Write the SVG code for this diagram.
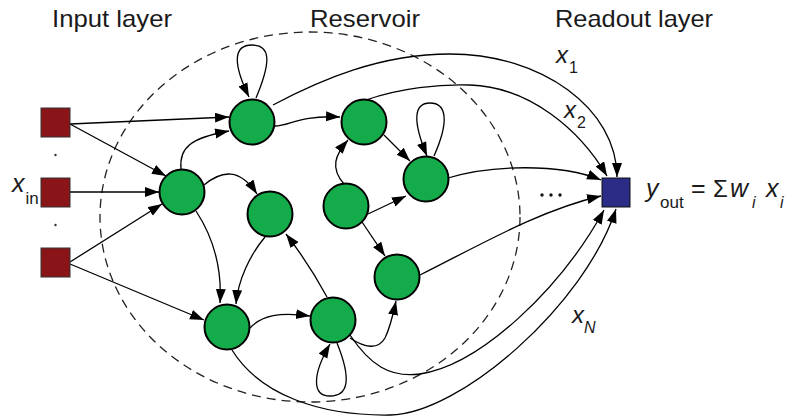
<svg xmlns="http://www.w3.org/2000/svg" width="788" height="417" viewBox="0 0 788 417">
<defs>
<marker id="ah" markerUnits="userSpaceOnUse" markerWidth="15" markerHeight="11" refX="14" refY="5" orient="auto">
<path d="M0,0 L14,5 L0,10 z" fill="#000"/>
</marker>
<style>
.t{font-family:"Liberation Sans",Arial,sans-serif;fill:#1a1a1a}
.e{fill:none;stroke:#000;stroke-width:1.3;marker-end:url(#ah)}
.n{fill:#14ac4a;stroke:#000;stroke-width:2}
.in{fill:#8a1518;stroke:#333;stroke-width:1}
.out{fill:#2a2c86;stroke:#111;stroke-width:1}
.i{font-style:italic}
</style>
</defs>
<rect width="788" height="417" fill="#fff"/>
<g id="titles" class="t" font-size="24">
<text x="52" y="27" textLength="120" lengthAdjust="spacingAndGlyphs">Input layer</text>
<text x="310" y="27" textLength="110" lengthAdjust="spacingAndGlyphs">Reservoir</text>
<text x="555" y="27" textLength="158" lengthAdjust="spacingAndGlyphs">Readout layer</text>
</g>
<ellipse id="reservoir-boundary" cx="310" cy="217" rx="210" ry="185" fill="none" stroke="#222" stroke-width="1.3" stroke-dasharray="9 6"/>
<g id="connectors">
<path class="e" d="M70,124 L229,117"/>
<path class="e" d="M70,124 L166,176"/>
<path class="e" d="M70,192 L159,192"/>
<path class="e" d="M70,262 L162,204"/>
<path class="e" d="M70,264 L204,320"/>
<path class="e" d="M256,98 C272,60 270,45 252,45 C234,45 232,62 249,97"/>
<path class="e" d="M181,169 C179,148 190,138 229,131"/>
<path class="e" d="M275,126 C290,126 298,115 340,117"/>
<path class="e" d="M204,185 C222,170 240,168 257,194"/>
<path class="e" d="M196,211 C215,240 222,270 220,303"/>
<path class="e" d="M265,237 C250,255 238,280 236,304"/>
<path class="e" d="M250,328 C262,315 280,312 310,316"/>
<path class="e" d="M327,297 C315,275 300,252 286,234"/>
<path class="e" d="M350,338 C365,348 378,350 385,338 C390,328 393,315 396,301"/>
<path class="e" d="M337,343 C352,380 348,396 330,396 C312,396 312,375 330,344"/>
<path class="e" d="M344,184 C330,168 335,155 348,140"/>
<path class="e" d="M384,135 L410,161"/>
<path class="e" d="M368,214 L406,196"/>
<path class="e" d="M362,222 L385,256"/>
<path class="e" d="M434,156 C450,120 446,103 430,103 C414,103 412,120 427,156"/>
<path class="e" d="M273,105 C320,80 380,54 450,54 C542,54 617,109 617,177"/>
<path class="e" d="M366,100 C400,88 440,84 470,85 C530,87 580,130 607,176"/>
<path class="e" d="M448,178 C490,165 560,163 601,180"/>
<path class="e" d="M420,275 C480,245 540,210 601,196"/>
<path class="e" d="M350,335 C370,365 390,378 420,374 C480,365 560,290 604,210"/>
<path class="e" d="M232,350 C260,395 320,416 390,415 C460,414 585,305 616,209"/>
</g>
<g id="input-dots" fill="#333">
<circle cx="55.5" cy="155" r="1.2"/>
<circle cx="55.5" cy="225" r="1.2"/>
</g>
<g id="in1"><rect class="in" x="41" y="108" width="29" height="29"/></g>
<g id="in2"><rect class="in" x="41" y="178" width="29" height="29"/></g>
<g id="in3"><rect class="in" x="41" y="248" width="29" height="29"/></g>
<g id="nA"><circle class="n" cx="252" cy="122" r="22.5"/></g>
<g id="nB"><circle class="n" cx="182" cy="192" r="22.5"/></g>
<g id="nC"><circle class="n" cx="364" cy="122" r="22.5"/></g>
<g id="nD"><circle class="n" cx="426" cy="179" r="22.5"/></g>
<g id="nE"><circle class="n" cx="270" cy="214" r="22.5"/></g>
<g id="nF"><circle class="n" cx="346" cy="206" r="22.5"/></g>
<g id="nG"><circle class="n" cx="397" cy="277" r="22.5"/></g>
<g id="nH"><circle class="n" cx="227" cy="327" r="22.5"/></g>
<g id="nI"><circle class="n" cx="333" cy="320" r="22.5"/></g>
<g id="out"><rect class="out" x="602" y="178" width="28" height="29"/></g>
<g id="ellipsis" fill="#111">
<circle cx="542" cy="195" r="1.7"/>
<circle cx="551" cy="195" r="1.7"/>
<circle cx="560" cy="195" r="1.7"/>
</g>
<g id="labels" class="t">
<text x="12" y="192" font-size="25" class="i">x<tspan font-size="17" font-style="normal" dx="1" dy="12">in</tspan></text>
<text x="556" y="63" font-size="24" class="i">x<tspan font-size="16" font-style="normal" dx="1" dy="10">1</tspan></text>
<text x="564" y="118" font-size="24" class="i">x<tspan font-size="16" font-style="normal" dx="1" dy="10">2</tspan></text>
<text x="572" y="323" font-size="24" class="i">x<tspan font-size="16" dy="10">N</tspan></text>
<text y="197" font-size="25"><tspan x="646" class="i">y</tspan><tspan x="660" y="208" font-size="17">out</tspan><tspan x="691" y="197">=</tspan><tspan x="713" y="197" font-size="24">Σ</tspan><tspan x="730" y="197" class="i">w</tspan><tspan x="752" y="208" class="i" font-size="16">i</tspan><tspan x="766" y="197" class="i">x</tspan><tspan x="780" y="208" class="i" font-size="16">i</tspan></text>
</g>
</svg>
